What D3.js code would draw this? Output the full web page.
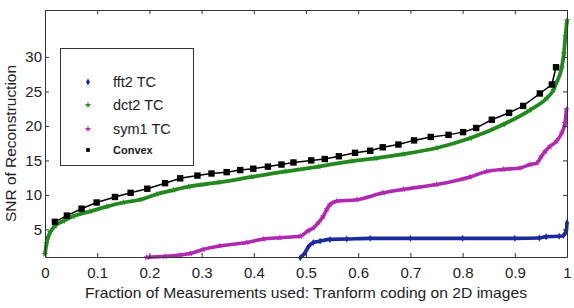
<!DOCTYPE html>
<html>
<head>
<meta charset="utf-8">
<script src="https://cdn.jsdelivr.net/npm/d3@7"></script>
<style>
  body { margin: 0; background: #fff; }
  svg text { font-family: "Liberation Sans", Arial, sans-serif; fill: #222; }
</style>
</head>
<body>
<div id="chart"></div>
<script>
var fftX = [0.489, 0.498, 0.504, 0.514, 0.527, 0.546, 0.578, 0.623, 0.70, 0.80, 0.90, 0.947, 0.96, 0.985, 0.993, 0.997, 0.999, 1.0];
var fftY = [0.9, 1.6, 2.4, 3.1, 3.3, 3.55, 3.6, 3.7, 3.7, 3.7, 3.7, 3.75, 3.95, 4.0, 4.1, 4.5, 5.0, 6.0];

var dctX = [0, 0.003, 0.006, 0.01, 0.019, 0.035, 0.054, 0.086, 0.118, 0.15, 0.182, 0.214, 0.246, 0.275, 0.332, 0.396, 0.46, 0.524, 0.588, 0.632, 0.686, 0.75, 0.814, 0.878, 0.929, 0.961, 0.974, 0.98, 0.99, 0.994, 0.997, 1.0];
var dctY = [1.4, 3.0, 3.9, 4.6, 5.5, 6.2, 6.9, 7.6, 8.3, 8.9, 9.3, 10.1, 10.7, 11.2, 11.8, 12.6, 13.4, 14.1, 14.9, 15.3, 15.9, 16.8, 18.2, 20.2, 22.3, 24.0, 25.2, 26.3, 28.5, 30.5, 33.0, 35.3];

var symX = [0.195, 0.23, 0.259, 0.278, 0.303, 0.335, 0.386, 0.418, 0.45, 0.489, 0.504, 0.514, 0.524, 0.533, 0.54, 0.546, 0.559, 0.597, 0.648, 0.686, 0.75, 0.814, 0.846, 0.878, 0.91, 0.929, 0.942, 0.951, 0.958, 0.967, 0.98, 0.99, 0.996, 0.999];
var symY = [0.95, 1.1, 1.3, 1.5, 2.1, 2.6, 3.1, 3.6, 3.8, 4.0, 4.8, 5.2, 6.0, 6.9, 7.9, 8.6, 9.1, 9.3, 10.3, 10.8, 11.5, 12.6, 13.4, 13.7, 13.9, 14.4, 14.6, 15.6, 16.3, 17.0, 17.8, 19.0, 20.4, 22.4];

var cvxX = [0.019, 0.042, 0.070, 0.099, 0.134, 0.164, 0.196, 0.230, 0.259, 0.292, 0.319, 0.348, 0.374, 0.399, 0.427, 0.453, 0.476, 0.510, 0.536, 0.563, 0.594, 0.623, 0.647, 0.677, 0.707, 0.739, 0.773, 0.801, 0.826, 0.856, 0.889, 0.916, 0.948, 0.971, 0.979];
var cvxY = [6.1, 7.0, 8.0, 8.9, 9.7, 10.3, 10.9, 11.7, 12.4, 12.8, 13.1, 13.3, 13.6, 13.8, 14.1, 14.4, 14.7, 15.0, 15.2, 15.6, 16.1, 16.4, 16.9, 17.3, 17.9, 18.4, 18.7, 19.1, 19.7, 20.9, 21.9, 22.9, 24.7, 26.0, 28.5];

var xTicks = [0, 0.1, 0.2, 0.3, 0.4, 0.5, 0.6, 0.7, 0.8, 0.9, 1];
var yTicks = [5, 10, 15, 20, 25, 30];
var legendNames = ["fft2 TC", "dct2 TC", "sym1 TC", "Convex"];

var width = 574, height = 308;
var margin = {top: 10, right: 7, bottom: 51, left: 45};

var svg = d3.select("#chart").append("svg")
    .attr("width", width)
    .attr("height", height);

var x = d3.scaleLinear().domain([0, 1]).range([margin.left, width - margin.right]);
var y = d3.scaleLinear().domain([1, 36.8]).range([height - margin.bottom, margin.top]);

function pts(xs, ys) {
  return xs.map(function(v, i) { return {x: v, y: ys[i]}; });
}

var series = [
  {name: "dct2", data: pts(dctX, dctY), color: "#23891f", symbol: d3.symbolStar, width: 3.8},
  {name: "sym1", data: pts(symX, symY), color: "#b02ab0", symbol: d3.symbolStar, width: 3.6},
  {name: "fft2", data: pts(fftX, fftY), color: "#1c2a9c", symbol: d3.symbolDiamond, width: 3.6}
];

var line = d3.line()
    .x(function(d) { return x(d.x); })
    .y(function(d) { return y(d.y); })
    .curve(d3.curveMonotoneX);

series.forEach(function(s) {
  svg.append("path")
    .datum(s.data)
    .attr("d", line)
    .attr("fill", "none")
    .attr("stroke", s.color)
    .attr("stroke-width", s.width)
    .attr("stroke-linejoin", "round");

  svg.selectAll(".m-" + s.name)
    .data(s.data)
    .enter()
    .append("path")
    .attr("class", "m-" + s.name)
    .attr("d", d3.symbol().type(s.symbol).size(14))
    .attr("transform", function(d) { return "translate(" + x(d.x) + "," + y(d.y) + ")"; })
    .attr("fill", s.color);
});

// convex: thin black line with squares
var cvx = pts(cvxX, cvxY);
svg.append("path")
  .datum(cvx)
  .attr("d", d3.line().x(function(d) { return x(d.x); }).y(function(d) { return y(d.y); }))
  .attr("fill", "none")
  .attr("stroke", "#000")
  .attr("stroke-width", 1.5);

svg.selectAll(".sq")
  .data(cvx)
  .enter()
  .append("rect")
  .attr("class", "sq")
  .attr("x", function(d) { return x(d.x) - 3.2; })
  .attr("y", function(d) { return y(d.y) - 3.2; })
  .attr("width", 6.4)
  .attr("height", 6.4)
  .attr("fill", "#000");

// axes (ticks inside, box all round)
var fmt = function(d) { return (d === 0 || d === 1) ? String(d) : d.toFixed(1); };

svg.append("g")
  .attr("class", "axis")
  .attr("transform", "translate(0," + (height - margin.bottom) + ")")
  .call(d3.axisBottom(x).tickValues(xTicks).tickFormat(fmt).tickSize(-4).tickSizeOuter(0).tickPadding(10));

svg.append("g")
  .attr("class", "axis")
  .attr("transform", "translate(0," + margin.top + ")")
  .call(d3.axisTop(x).tickValues(xTicks).tickFormat("").tickSize(-4).tickSizeOuter(0));

svg.append("g")
  .attr("class", "axis")
  .attr("transform", "translate(" + margin.left + ",0)")
  .call(d3.axisLeft(y).tickValues(yTicks).tickSize(-4).tickSizeOuter(0).tickPadding(3));

svg.append("g")
  .attr("class", "axis")
  .attr("transform", "translate(" + (width - margin.right) + ",0)")
  .call(d3.axisRight(y).tickValues(yTicks).tickFormat("").tickSize(-4).tickSizeOuter(0));

svg.selectAll(".axis path, .axis line").attr("stroke", "#333");
svg.selectAll(".axis text")
  .style("font-size", "15px")
  .style("font-family", "'Liberation Sans', Arial, sans-serif")
  .attr("fill", "#222");

// axis labels
svg.append("text")
  .attr("x", 306)
  .attr("y", 298)
  .attr("text-anchor", "middle")
  .attr("textLength", 442)
  .attr("lengthAdjust", "spacingAndGlyphs")
  .style("font-size", "15px")
  .text("Fraction of Measurements used: Tranform coding on 2D images");

svg.append("text")
  .attr("transform", "translate(16,143.5) rotate(-90)")
  .attr("text-anchor", "middle")
  .attr("textLength", 157)
  .attr("lengthAdjust", "spacingAndGlyphs")
  .style("font-size", "15px")
  .text("SNR of Reconstruction");

// legend
var lg = svg.append("g");
lg.append("rect")
  .attr("x", 60.5).attr("y", 48.5)
  .attr("width", 133).attr("height", 117)
  .attr("fill", "#fff")
  .attr("stroke", "#333");

var legendY = [82, 105, 129, 150];
var legendColors = ["#1c2a9c", "#23891f", "#b02ab0", "#000"];
var legendSyms = [d3.symbolDiamond, d3.symbolStar, d3.symbolStar, d3.symbolSquare];

legendNames.forEach(function(name, i) {
  lg.append("path")
    .attr("d", d3.symbol().type(legendSyms[i]).size(14))
    .attr("transform", "translate(88," + legendY[i] + ")")
    .attr("fill", legendColors[i]);
  lg.append("text")
    .attr("x", 113)
    .attr("y", legendY[i] + (i === 3 ? 4 : 5))
    .style("font-size", i === 3 ? "11px" : "14.5px")
    .style("font-weight", i === 3 ? "bold" : "normal")
    .text(name);
});
</script>
</body>
</html>
